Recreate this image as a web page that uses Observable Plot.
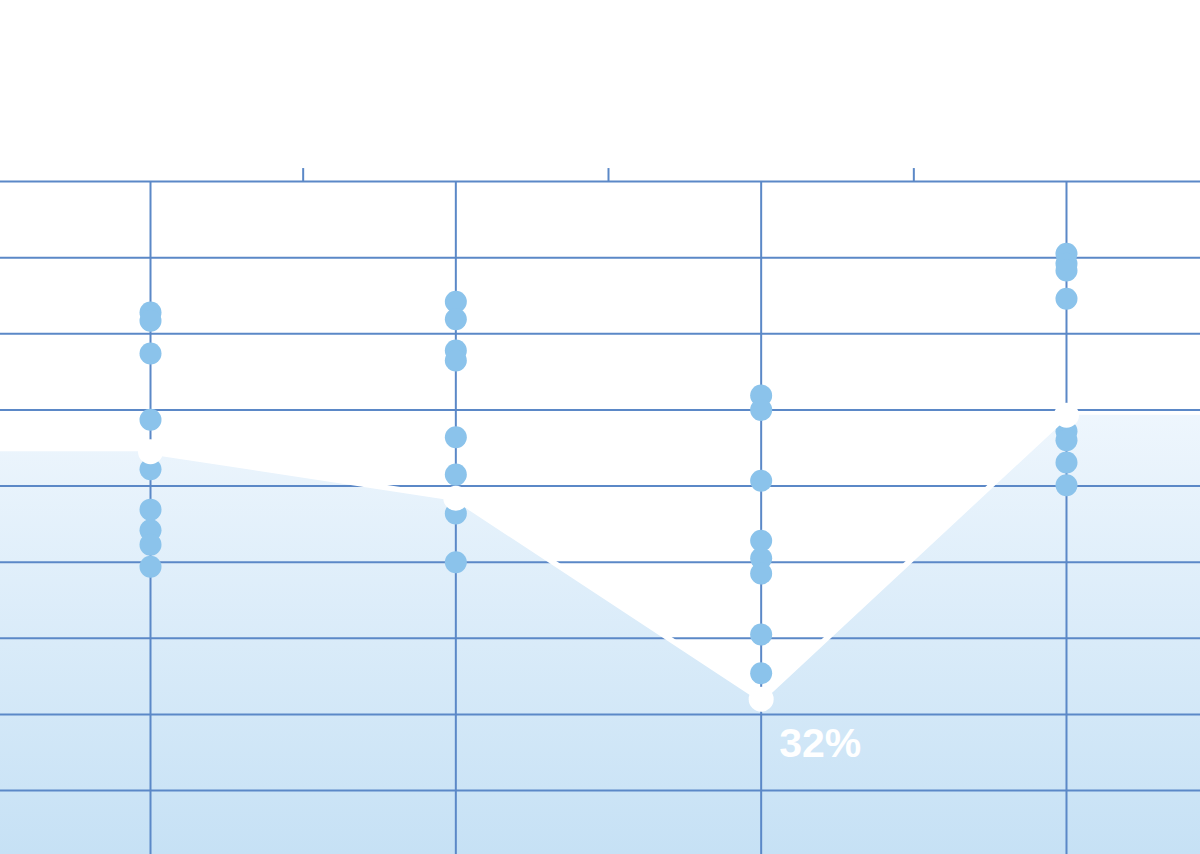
<!DOCTYPE html>
<html>
<head>
<meta charset="utf-8">
<script src="https://cdn.jsdelivr.net/npm/d3@7"></script>
<script src="https://cdn.jsdelivr.net/npm/@observablehq/plot@0.6"></script>
<style>
  html, body { margin: 0; padding: 0; background: #ffffff; }
  #chart svg { display: block; }
</style>
</head>
<body>
<div id="chart"></div>
<script>
// ---- data ----
const categories = [0, 1, 2, 3];
const seriesA = [82.8, 81.7, 77.4, 68.7, 62.2, 56.9, 54.2, 52.3, 49.4];
const seriesB = [84.2, 81.9, 77.8, 76.5, 66.4, 61.5, 56.4, 50.0];
const seriesC = [71.9, 70.0, 60.7, 52.8, 50.5, 48.5, 40.5, 35.4];
const seriesD = [90.5, 89.2, 88.3, 84.6, 67.2, 66.0, 63.1, 60.1];
const summary = [64.5, 58.4, 32.0, 69.3];
const gridValues = [20, 30, 40, 50, 60, 70, 80, 90, 100];
const topTicks = [0.5, 1.5, 2.5];

// label placement (styling, kept apart from the data)
const labelDx = [30, 33, 18, 24];
const labelDy = [-22, -43, 45, -39];

// ---- derived tables ----
const groups = [seriesA, seriesB, seriesC, seriesD];
const dots = groups.flatMap((vals, i) => vals.map(v => ({x: categories[i], y: v})));
const pts = summary.map((v, i) => ({x: categories[i], y: v, label: Math.round(v) + "%"}));
const xDomain = [-0.4913, 3.4389];
const yDomain = [11.6, 100];
const areaPts = [{x: xDomain[0], y: summary[0]}, ...pts, {x: xDomain[1], y: summary[summary.length - 1]}];

const gridColor = "#5b88c7";

const gradientDefs = () => {
  const defs = d3.create("svg:defs");
  const g = defs.append("linearGradient").attr("id", "areaGrad")
    .attr("x1", 0).attr("y1", 0).attr("x2", 0).attr("y2", 1);
  g.append("stop").attr("offset", "0%").attr("stop-color", "#eef6fd");
  g.append("stop").attr("offset", "100%").attr("stop-color", "#c6e1f5");
  return defs.node();
};

const labelMarks = pts.map((p, i) => Plot.text([p], {
  x: "x", y: "y", text: "label", fill: "#ffffff",
  fontSize: 41, fontWeight: "bold", textAnchor: "start",
  dx: labelDx[i], dy: labelDy[i]
}));

const chart = Plot.plot({
  width: 1200,
  height: 854,
  marginTop: 181,
  marginBottom: 0,
  marginLeft: 0,
  marginRight: 0,
  style: {background: "#ffffff", fontFamily: "Liberation Sans, Arial, sans-serif"},
  x: {type: "linear", domain: xDomain, axis: null},
  y: {type: "linear", domain: yDomain, axis: null},
  marks: [
    gradientDefs,
    Plot.areaY(areaPts, {x: "x", y1: yDomain[0], y2: "y", fill: "url(#areaGrad)"}),
    Plot.ruleY(gridValues, {stroke: gridColor, strokeWidth: 2}),
    Plot.ruleX(categories, {y1: yDomain[0], y2: 100, stroke: gridColor, strokeWidth: 2}),
    Plot.ruleX(topTicks, {y1: 100, y2: 101.7, stroke: gridColor, strokeWidth: 2}),
    Plot.dot(dots, {x: "x", y: "y", r: 11, fill: "#8bc3eb"}),
    Plot.line(pts, {x: "x", y: "y", stroke: "#ffffff", strokeWidth: 5.5}),
    Plot.dot(pts, {x: "x", y: "y", r: 12.5, fill: "#ffffff"}),
    ...labelMarks
  ]
});
document.getElementById("chart").appendChild(chart);
</script>
</body>
</html>
